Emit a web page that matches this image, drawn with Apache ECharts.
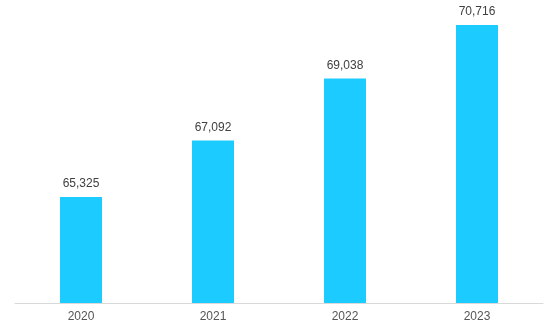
<!DOCTYPE html>
<html>
<head>
<meta charset="utf-8">
<script src="https://cdn.jsdelivr.net/npm/echarts@6/dist/echarts.min.js"></script>
<style>html,body{margin:0;padding:0;background:#fff;}#c{width:559px;height:336px;}</style>
</head>
<body>
<div id="c"></div>
<script>
var categories = ['2020', '2021', '2022', '2023'];
var values = [65325, 67092, 69038, 70716];

var chart = echarts.init(document.getElementById('c'), null, {renderer: 'canvas'});
chart.setOption({
  animation: false,
  grid: {left: 15, right: 16, top: 16, bottom: 33, containLabel: false},
  xAxis: {
    type: 'category',
    data: categories,
    axisLine: {show: true, lineStyle: {color: '#d9d9d9', width: 1}},
    axisTick: {show: false},
    axisLabel: {color: '#555555', fontSize: 12, fontFamily: 'Liberation Sans', margin: 8}
  },
  yAxis: {
    type: 'value',
    min: 62000,
    max: 71000,
    show: false,
    splitLine: {show: false}
  },
  series: [{
    type: 'bar',
    data: values,
    barWidth: 42,
    itemStyle: {color: '#1ccbff'},
    label: {
      show: true,
      position: 'top',
      distance: 7,
      color: '#404040',
      fontSize: 12,
      fontFamily: 'Liberation Sans',
      formatter: function (p) { return p.value.toLocaleString('en-US'); }
    }
  }]
});
</script>
</body>
</html>
